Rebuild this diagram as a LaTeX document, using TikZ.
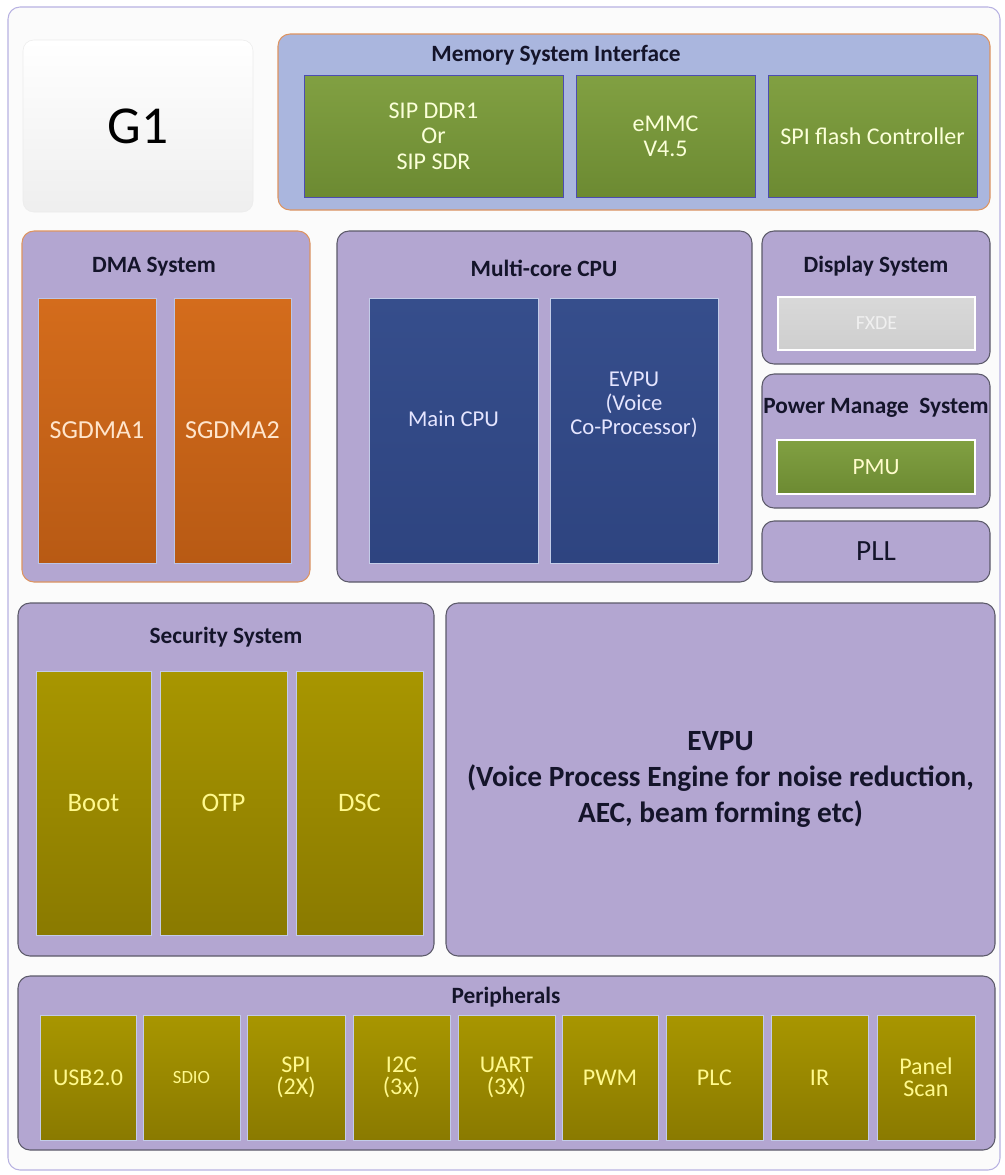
\documentclass[tikz,border=0pt]{standalone}
\usepackage{fontspec}
\setmainfont{Carlito}
\definecolor{lav}{HTML}{B3A6D1}
\definecolor{lavb}{HTML}{AAB6DE}
\definecolor{orgb}{HTML}{DE9460}
\definecolor{darkb}{HTML}{5C5A6A}
\definecolor{grnT}{HTML}{81A042}
\definecolor{grnB}{HTML}{6C8A32}
\definecolor{orT}{HTML}{D46C1C}
\definecolor{orB}{HTML}{B85A14}
\definecolor{blT}{HTML}{364E8C}
\definecolor{blB}{HTML}{2E4480}
\definecolor{olT}{HTML}{A89600}
\definecolor{olB}{HTML}{8A7A00}
\definecolor{ttl}{HTML}{14142A}
\definecolor{frame}{HTML}{B8B2E2}
\colorlet{grnedge}{blue!40!gray}
\tikzset{
  pix/.style={x=0.75pt,y=-0.75pt},
  cont/.style={draw=darkb, line width=0.8pt, fill=lav, rounded corners=9pt, inner sep=0pt, outer sep=0pt},
  contO/.style={cont, draw=orgb},
  ttlbox/.style={font=\bfseries\fontsize{17.5}{20}\selectfont, text=ttl, inner sep=0pt},
  inner/.style={inner sep=0pt, outer sep=0pt, align=center, font=\fontsize{18}{19}\selectfont},
  grn/.style={inner, draw=grnedge, top color=grnT, bottom color=grnB, line width=0.6pt, text=green!10!yellow!15!white},
  orng/.style={inner, draw=lavb!80!white, top color=orT, bottom color=orB, line width=0.6pt, text=orange!20!white, font=\fontsize{19.5}{22}\selectfont},
  blu/.style={inner, draw=lavb!70!white, top color=blT, bottom color=blB, line width=0.6pt},
  blutext/.style={inner sep=0pt, align=center, text=blue!10!white, font=\fontsize{17}{18}\selectfont},
  oliv/.style={inner, draw=lavb!70!white, top color=olT, bottom color=olB, line width=0.6pt, text=yellow!45!white, font=\fontsize{18}{16.5}\selectfont},
  olivbig/.style={oliv, font=\fontsize{20}{22}\selectfont},
}
\newcommand\blk[7]{\node[#6, minimum width={(#4-#2)*0.75pt}, minimum height={(#5-#3)*0.75pt}] (#1) at ({(#2+#4)/2},{(#3+#5)/2}) {#7};}
\begin{document}
\begin{tikzpicture}[pix]
\useasboundingbox (0,0) rectangle (1004,1175);
\fill[white] (0,0) rectangle (1004,1175);
\blk{outer}{8}{7}{1000}{1170}{draw=frame, line width=0.8pt, fill=gray!3, rounded corners=9pt, inner sep=0pt}{}
% G1
\blk{g1}{23}{40}{253}{212}{draw=gray!15, top color=white, bottom color=gray!13, rounded corners=8pt, inner sep=0pt, font=\fontsize{40}{42}\selectfont}{G1}
% Memory system
\blk{mem}{278}{34}{990}{210}{contO, fill=lavb}{}
\node[ttlbox] (memt) at (556,55) {Memory System Interface};
\blk{ddr}{304}{75}{563}{197}{grn}{SIP DDR1\\Or\\SIP SDR}
\blk{emmc}{576}{75}{755}{197}{grn}{eMMC\\V4.5}
\blk{spif}{768}{75}{977}{197}{grn}{SPI flash Controller}
% DMA
\blk{dma}{22}{231}{310}{582}{contO}{}
\node[ttlbox] (dmat) at (154,267) {DMA System};
\blk{sg1}{38}{298}{156}{563}{orng}{SGDMA1}
\blk{sg2}{174}{298}{291}{563}{orng}{SGDMA2}
% CPU
\blk{cpu}{337}{231}{752}{582}{cont}{}
\node[ttlbox] (cput) at (544,268) {Multi-core CPU};
\blk{mcpu}{369}{298}{538}{563}{blu}{}
\blk{evpus}{550}{298}{718}{563}{blu}{}
\node[blutext] (mcput) at ([yshift=9pt]mcpu.center) {Main CPU};
\node[blutext] (evpust) at ([yshift=19pt]evpus.center) {EVPU\\(Voice\\Co-Processor)};
% Display
\blk{disp}{762}{231}{990}{364}{cont}{}
\node[ttlbox] (dispt) at (876,266) {Display System};
\blk{fxde}{778}{297}{975}{350}{inner, draw=white, line width=1.2pt, top color=gray!30, bottom color=gray!38, text=gray!12, font=\fontsize{15}{17}\selectfont}{FXDE}
% Power
\blk{pwr}{762}{374}{990}{508}{cont}{}
\node[ttlbox] (pwrt) at (876,408) {Power Manage\ \ System};
\blk{pmu}{777}{440}{975}{494}{inner, draw=white, line width=1.2pt, top color=grnT, bottom color=grnB, text=yellow!20!white, font=\fontsize{17.5}{19}\selectfont}{PMU}
% PLL
\blk{pll}{762}{521}{990}{582}{cont, font=\fontsize{22}{24}\selectfont, text=ttl}{PLL}
% Security
\blk{sec}{18}{603}{434}{956}{cont}{}
\node[ttlbox] (sect) at (226,637) {Security System};
\blk{boot}{36}{671}{151}{935}{olivbig}{Boot}
\blk{otp}{160}{671}{287}{935}{olivbig}{OTP}
\blk{dsc}{296}{671}{423}{935}{olivbig}{DSC}
% EVPU big
\blk{evpu}{446}{603}{995}{956}{cont, align=center, text=ttl, font=\bfseries\fontsize{22}{27}\selectfont}{EVPU\\(Voice Process Engine for noise reduction,\\AEC, beam forming etc)}
% Peripherals
\blk{per}{18}{976}{995}{1150}{cont}{}
\node[ttlbox] (pert) at (506,997) {Peripherals};
\blk{usb}{40}{1015}{136}{1140}{oliv}{USB2.0}
\blk{sdio}{143}{1015}{240}{1140}{oliv, font=\fontsize{14}{16}\selectfont}{SDIO}
\blk{spi}{247}{1015}{345}{1140}{oliv}{SPI\\(2X)}
\blk{iic}{353}{1015}{450}{1140}{oliv}{I2C\\(3x)}
\blk{uart}{458}{1015}{555}{1140}{oliv}{UART\\(3X)}
\blk{pwm}{562}{1015}{658}{1140}{oliv}{PWM}
\blk{plc}{666}{1015}{763}{1140}{oliv}{PLC}
\blk{ir}{771}{1015}{868}{1140}{oliv}{IR}
\blk{pscan}{877}{1015}{975}{1140}{oliv}{Panel\\Scan}
\end{tikzpicture}
\end{document}
